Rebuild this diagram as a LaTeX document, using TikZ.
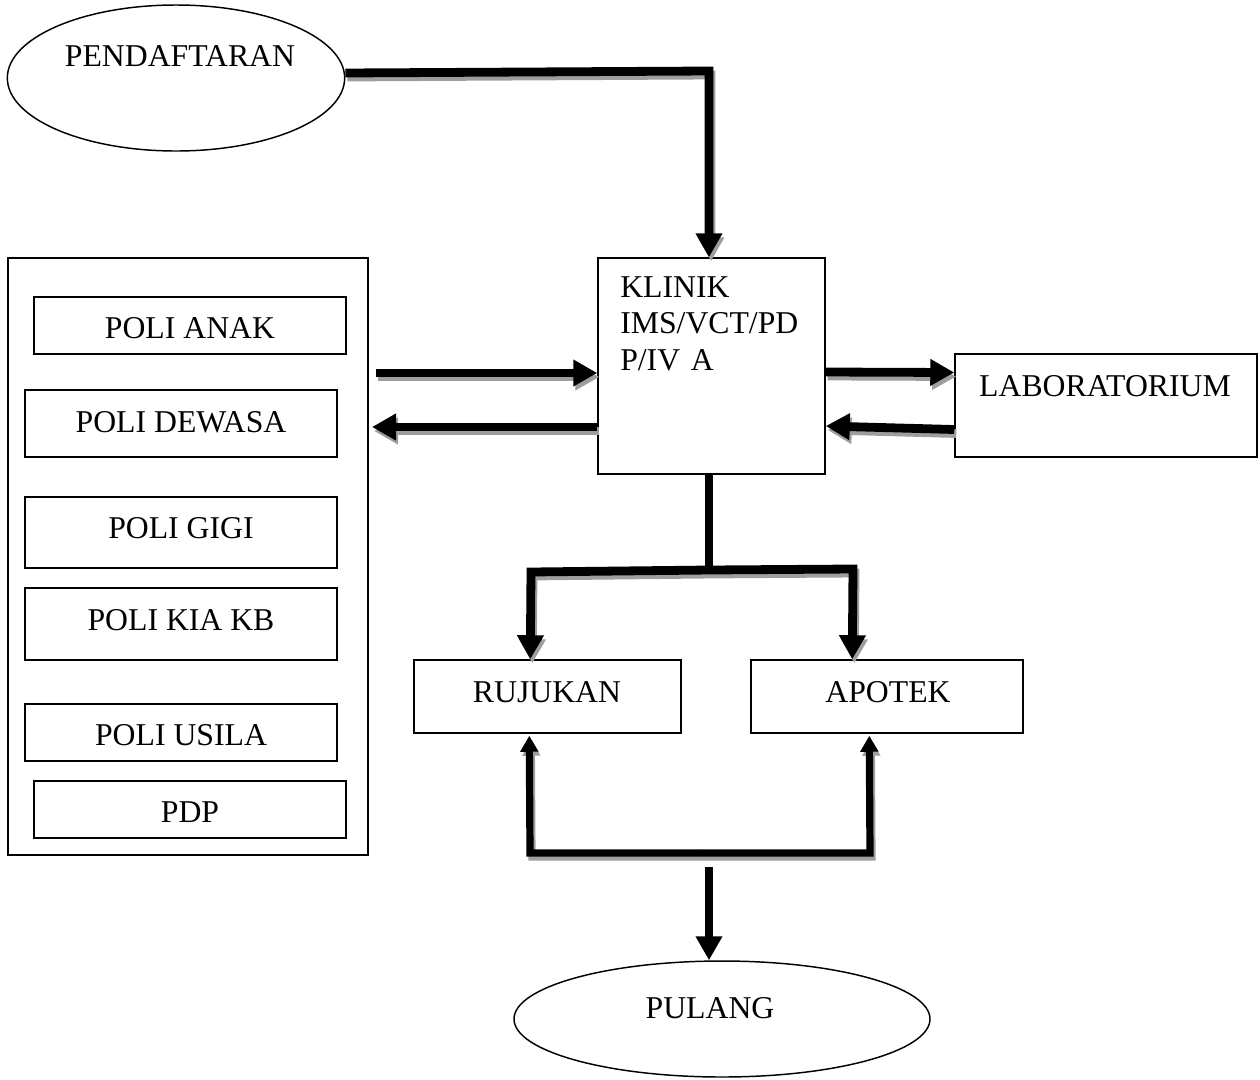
\documentclass[tikz,border=0pt]{standalone}
\usepackage{fontspec}
\setmainfont{Liberation Serif}
\usetikzlibrary{arrows.meta,shapes.geometric,calc}

\tikzset{
  txt/.style={font=\fontsize{23.8}{28}\selectfont, inner sep=0pt},
  box/.style={draw, line width=1.1pt, rectangle, inner sep=0pt},
  oval/.style={draw, line width=1.1pt, ellipse, inner sep=0pt},
  flow/.style={line width=6.6pt, line join=miter},
  thinflow/.style={line width=5.4pt, line join=miter},
  shade/.style={draw=black!38},
  bigtip/.style={-{Triangle[length=18pt,width=19pt]}},
  smalltip/.style={-{Triangle[length=12pt,width=13pt]}},
}
% a connector with a grey drop shadow beneath it
\newcommand\shadowdraw[2]{%
  \begin{scope}[transform canvas={shift={(1.5pt,-3pt)}}]
    \draw[#1, shade] #2;
  \end{scope}
  \draw[#1] #2;
}

\begin{document}
\begin{tikzpicture}[x=0.75pt,y=-0.75pt]
\useasboundingbox (0,0) rectangle (1260,1079);

% start and end ovals
\node[oval, minimum width=253pt, minimum height=109.5pt] (pend) at (176,78) {};
\node[txt] (pendt) at (180,56) {PENDAFTARAN};
\node[oval, minimum width=312pt, minimum height=87pt] (pulang) at (722,1019) {};
\node[txt] (pulangt) at (710,1008) {PULANG};

% clinic box
\node[box, minimum width=170.25pt, minimum height=162pt] (klinik) at (711.5,366) {};
\node[txt, anchor=north west, align=left, text width=165pt,
      font=\fontsize{23.8}{27.5}\selectfont] (klinikt) at (620,276)
  {KLINIK\\IMS/VCT/PD\\P/IV A};

% laboratory
\node[box, minimum width=226.5pt, minimum height=77.25pt] (lab) at (1106,405.5) {};
\node[txt] (labt) at (1105,386) {LABORATORIUM};

% outer polyclinic frame and its units
\node[box, minimum width=270pt, minimum height=447.75pt] (poli) at (188,556.5) {};
\node[box, minimum width=234pt, minimum height=42.75pt] (anak)   at (190,325.5) {};
\node[txt] at (190,328) {POLI ANAK};
\node[box, minimum width=234pt, minimum height=50.25pt] (dewasa) at (181,423.5) {};
\node[txt] at (181,422) {POLI DEWASA};
\node[box, minimum width=234pt, minimum height=53.25pt] (gigi)   at (181,532.5) {};
\node[txt] at (181,528) {POLI GIGI};
\node[box, minimum width=234pt, minimum height=54pt] (kia)    at (181,624) {};
\node[txt] at (181,620) {POLI KIA KB};
\node[box, minimum width=234pt, minimum height=42.75pt] (usila)  at (181,732.5) {};
\node[txt] at (181,735) {POLI USILA};
\node[box, minimum width=234pt, minimum height=42.75pt] (pdp)    at (190,809.5) {};
\node[txt] at (190,812) {PDP};

% referral and pharmacy
\node[box, minimum width=200.25pt, minimum height=54.75pt] (ruj) at (547.5,696.5) {};
\node[txt] at (547,692) {RUJUKAN};
\node[box, minimum width=204pt, minimum height=54.75pt] (apo) at (887,696.5) {};
\node[txt] at (888,692) {APOTEK};

% connectors
\coordinate (c1) at (709,71);
\shadowdraw{flow, bigtip}{($(pend.east)+(0,-5)$) -- (c1) -- (c1 |- klinik.north)}

\coordinate (pIn)  at (376,373);
\coordinate (pOut) at (372,427);
\shadowdraw{flow, bigtip}{(pIn) -- (pIn -| klinik.west)}
\shadowdraw{flow, bigtip}{(pOut -| klinik.west) -- (pOut)}

\shadowdraw{flow, bigtip}{($(klinik.east)+(0,6)$) -- ($(lab.west)+(0,-33)$)}
\shadowdraw{flow, bigtip}{($(lab.west)+(0,24)$) -- ($(klinik.east)+(0,60)$)}

\coordinate (br) at (709,570);
\draw[flow] (klinik.south -| br) -- (br);
\shadowdraw{flow, bigtip}{(br) -- (531,572) -- ($(ruj.north west)+(117,0)$)}
\shadowdraw{flow, bigtip}{(br) -- (853,569) -- ($(apo.north west)+(102,0)$)}

\coordinate (ret) at (700,853);
\shadowdraw{thinflow, smalltip}{(ret) -- (530,853) -- ($(ruj.south west)+(116,2)$)}
\shadowdraw{thinflow, smalltip}{(ret) -- (870,853) -- ($(apo.south west)+(119,2)$)}

\coordinate (out) at (709,867);
\draw[thinflow, bigtip] (out) -- (out |- pulang.north);
\end{tikzpicture}
\end{document}
